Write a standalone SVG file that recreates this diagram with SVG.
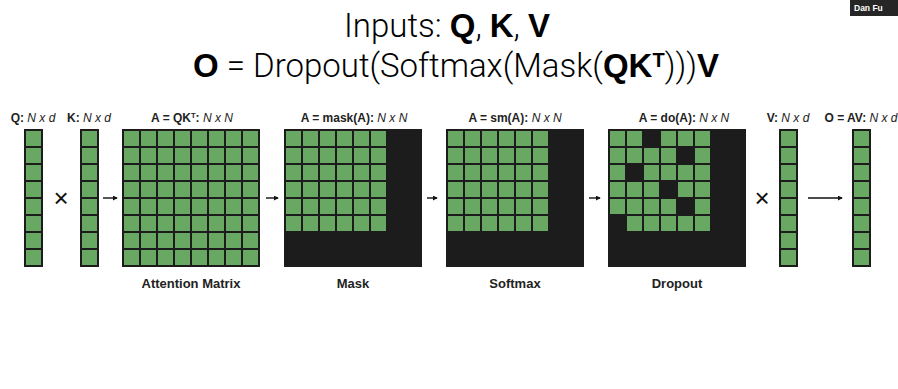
<svg xmlns="http://www.w3.org/2000/svg" width="898" height="389" viewBox="0 0 898 389">
<defs>
<style>
.dk{fill:#1c1c1c}
.gr{fill:#69a862}
.gl{stroke:#1c1c1c;stroke-width:2;fill:none}
.ar{stroke:#111;stroke-width:1.4;fill:none;marker-end:url(#ah)}
.lt{font-family:Roboto,"Liberation Sans",sans-serif;font-weight:300}
.bd{font-family:"Liberation Sans",Arial,sans-serif;font-weight:700}
.ttl{font-size:33px;fill:#000}
.lab{font-family:"Liberation Sans",Arial,sans-serif;font-size:12px;fill:#222}
.b{font-weight:700}
.i{font-style:italic}
.cap{font-family:"Liberation Sans",Arial,sans-serif;font-size:13px;font-weight:700;fill:#222}
.x{font-family:"Liberation Sans",Arial,sans-serif;font-size:26px;fill:#111}
</style>
<marker id="ah" viewBox="0 0 6 6" refX="5" refY="3" markerWidth="5" markerHeight="5" markerUnits="userSpaceOnUse" orient="auto">
<path d="M0,0 L6,3 L0,6 z" fill="#111"/>
</marker>
</defs>
<rect width="898" height="389" fill="#fff"/>

<g id="title">
<text class="ttl" x="447" y="37" text-anchor="middle"><tspan class="lt">Inputs: </tspan><tspan class="bd">Q</tspan><tspan class="lt">, </tspan><tspan class="bd">K</tspan><tspan class="lt">, </tspan><tspan class="bd">V</tspan></text>
<text class="ttl" x="456" y="77" text-anchor="middle"><tspan class="bd">O</tspan><tspan class="lt"> = Dropout(Softmax(Mask(</tspan><tspan class="bd">QK</tspan><tspan class="bd" font-size="20" dy="-10">T</tspan><tspan class="lt" dy="10">)))</tspan><tspan class="bd">V</tspan></text>
</g>

<g id="badge">
<rect x="850" y="0" width="48" height="16" fill="#262626"/>
<text x="854" y="11" font-family="'Liberation Sans',Arial,sans-serif" font-size="8.5" font-weight="700" fill="#fff">Dan Fu</text>
</g>

<g id="Q">
<text class="lab" x="33" y="122" text-anchor="middle"><tspan class="b">Q:</tspan> <tspan class="i">N x d</tspan></text>
<rect class="dk" x="24" y="129" width="19" height="138"/>
<rect class="gr" x="26" y="131" width="15" height="134"/>
<path class="gl" d="M26,147H41M26,164H41M26,181H41M26,198H41M26,215H41M26,232H41M26,249H41"/>
</g>

<text class="x" x="61" y="207" text-anchor="middle">×</text>

<g id="K">
<text class="lab" x="89" y="122" text-anchor="middle"><tspan class="b">K:</tspan> <tspan class="i">N x d</tspan></text>
<rect class="dk" x="80" y="129" width="19" height="138"/>
<rect class="gr" x="82" y="131" width="15" height="134"/>
<path class="gl" d="M82,147H97M82,164H97M82,181H97M82,198H97M82,215H97M82,232H97M82,249H97"/>
</g>

<g id="attention">
<text class="lab" x="192" y="122" text-anchor="middle"><tspan class="b">A = QK</tspan><tspan class="b" font-size="7.5" dy="-4">T</tspan><tspan class="b" dy="4">:</tspan> <tspan class="i">N x N</tspan></text>
<rect class="dk" x="122" y="129" width="138" height="138"/>
<rect class="gr" x="124" y="131" width="134" height="134"/>
<path class="gl" d="M140,129V267M157,129V267M174,129V267M191,129V267M208,129V267M225,129V267M242,129V267M122,147H260M122,164H260M122,181H260M122,198H260M122,215H260M122,232H260M122,249H260"/>
<text class="cap" x="191" y="288" text-anchor="middle">Attention Matrix</text>
</g>

<g id="mask">
<text class="lab" x="354" y="122" text-anchor="middle"><tspan class="b">A = mask(A):</tspan> <tspan class="i">N x N</tspan></text>
<rect class="dk" x="284" y="129" width="138" height="138"/>
<rect class="gr" x="286" y="131" width="100" height="100"/>
<path class="gl" d="M302,131V231M319,131V231M336,131V231M353,131V231M370,131V231M286,147H386M286,164H386M286,181H386M286,198H386M286,215H386"/>
<text class="cap" x="353" y="288" text-anchor="middle">Mask</text>
</g>

<g id="softmax">
<text class="lab" x="515" y="122" text-anchor="middle"><tspan class="b">A = sm(A):</tspan> <tspan class="i">N x N</tspan></text>
<rect class="dk" x="446" y="129" width="138" height="138"/>
<rect class="gr" x="448" y="131" width="100" height="100"/>
<path class="gl" d="M464,131V231M481,131V231M498,131V231M515,131V231M532,131V231M448,147H548M448,164H548M448,181H548M448,198H548M448,215H548"/>
<text class="cap" x="515" y="288" text-anchor="middle">Softmax</text>
</g>

<g id="dropout">
<text class="lab" x="684" y="122" text-anchor="middle"><tspan class="b">A = do(A):</tspan> <tspan class="i">N x N</tspan></text>
<rect class="dk" x="608" y="129" width="138" height="138"/>
<rect class="gr" x="610" y="131" width="100" height="100"/>
<path class="gl" d="M626,131V231M643,131V231M660,131V231M677,131V231M694,131V231M610,147H710M610,164H710M610,181H710M610,198H710M610,215H710"/>
<rect class="dk" x="644" y="131" width="15" height="15"/>
<rect class="dk" x="678" y="148" width="15" height="15"/>
<rect class="dk" x="627" y="165" width="15" height="15"/>
<rect class="dk" x="661" y="182" width="15" height="15"/>
<rect class="dk" x="678" y="199" width="15" height="15"/>
<rect class="dk" x="610" y="216" width="15" height="15"/>
<text class="cap" x="677" y="288" text-anchor="middle">Dropout</text>
</g>

<text class="x" x="762" y="207" text-anchor="middle">×</text>

<g id="V">
<text class="lab" x="788" y="122" text-anchor="middle"><tspan class="b">V:</tspan> <tspan class="i">N x d</tspan></text>
<rect class="dk" x="779" y="129" width="19" height="138"/>
<rect class="gr" x="781" y="131" width="15" height="134"/>
<path class="gl" d="M781,147H796M781,164H796M781,181H796M781,198H796M781,215H796M781,232H796M781,249H796"/>
</g>

<g id="O">
<text class="lab" x="861" y="122" text-anchor="middle"><tspan class="b">O = AV:</tspan> <tspan class="i">N x d</tspan></text>
<rect class="dk" x="852" y="129" width="19" height="138"/>
<rect class="gr" x="854" y="131" width="15" height="134"/>
<path class="gl" d="M854,147H869M854,164H869M854,181H869M854,198H869M854,215H869M854,232H869M854,249H869"/>
</g>

<g id="connectors">
<path class="ar" d="M103,198H117"/>
<path class="ar" d="M266,198H278"/>
<path class="ar" d="M427,198H437"/>
<path class="ar" d="M589,198H600"/>
<path class="ar" d="M808,198H842"/>
</g>
</svg>
